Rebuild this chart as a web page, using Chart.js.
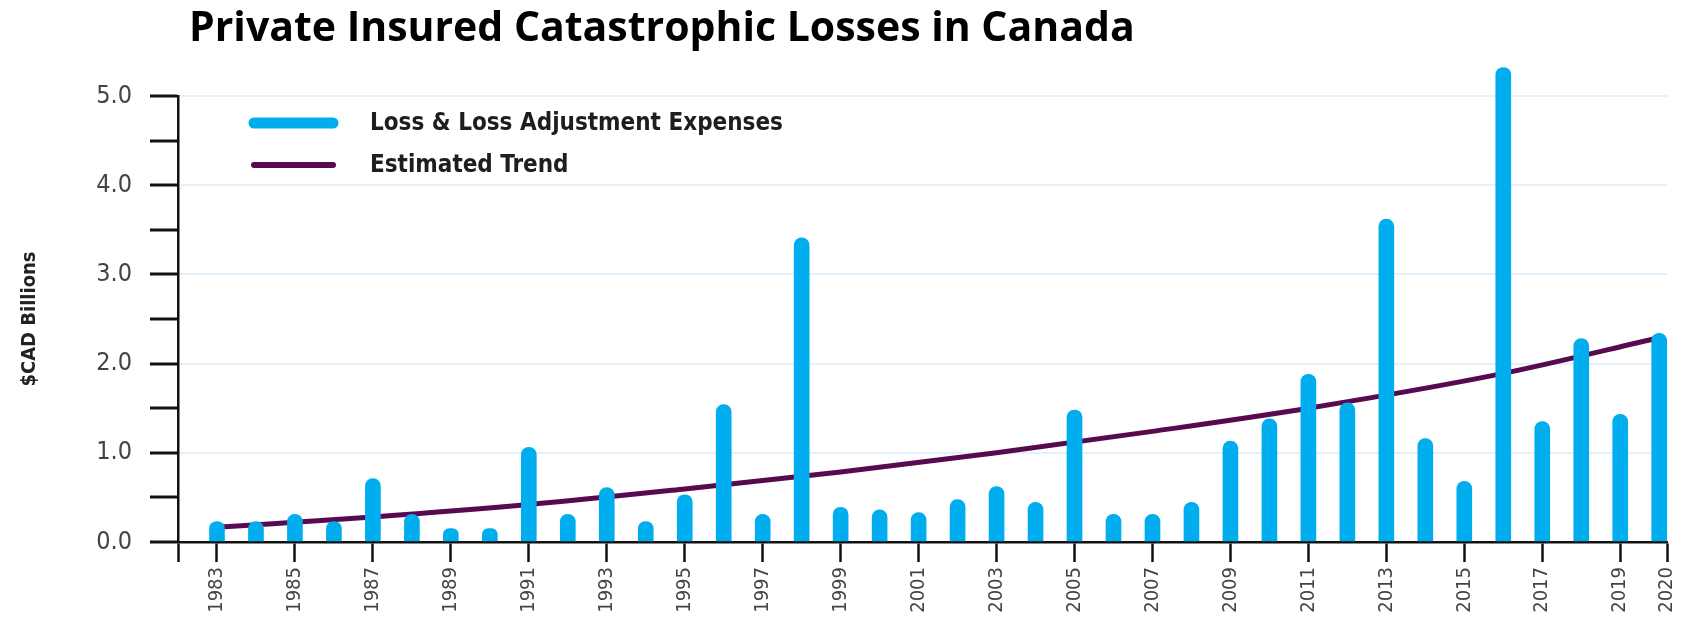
<!DOCTYPE html>
<html>
<head>
<meta charset="utf-8">
<script src="https://cdn.jsdelivr.net/npm/chart.js@4.4.1/dist/chart.umd.min.js"></script>
<style>
  html, body { margin: 0; padding: 0; background: #fff; }
  #wrap { position: relative; width: 1696px; height: 617px; }
  #title {
    position: absolute; left: 189px; top: 5px; margin: 0;
    font: bold 41px "Open Sans", Lato, sans-serif; line-height: 1;
    color: #000; white-space: nowrap;
  }
  canvas { position: absolute; left: 0; top: 0; }
</style>
</head>
<body>
<div id="wrap">
  <canvas id="chart" width="1696" height="617"></canvas>
  <h1 id="title">Private Insured Catastrophic Losses in Canada</h1>
</div>
<script>
// yearly losses, $CAD billions
const years = [1983, 1984, 1985, 1986, 1987, 1988, 1989, 1990, 1991, 1992,
               1993, 1994, 1995, 1996, 1997, 1998, 1999, 2000, 2001, 2002,
               2003, 2004, 2005, 2006, 2007, 2008, 2009, 2010, 2011, 2012,
               2013, 2014, 2015, 2016, 2017, 2018, 2019, 2020];
const losses = [0.23, 0.23, 0.31, 0.23, 0.71, 0.31, 0.15, 0.15, 1.06, 0.31,
                0.61, 0.23, 0.53, 1.54, 0.31, 3.41, 0.39, 0.36, 0.33, 0.475,
                0.62, 0.445, 1.48, 0.31, 0.31, 0.445, 1.13, 1.38, 1.88, 1.56,
                3.62, 1.16, 0.68, 5.32, 1.35, 2.28, 1.43, 2.34];

// estimated trend curve, read at a few years
const trendYears = [1983, 1987, 1991, 1995, 1999, 2003, 2007, 2011, 2016, 2020];
const trendValues = [0.165, 0.28, 0.42, 0.595, 0.785, 1.00, 1.24, 1.50, 1.89, 2.29];

// x axis tick labels
const tickYears = [1983, 1985, 1987, 1989, 1991, 1993, 1995, 1997, 1999, 2001,
                   2003, 2005, 2007, 2009, 2011, 2013, 2015, 2017, 2019];
const endLabel = "2020";
const xMin = 1982, xMax = 2020.2;

const seriesLabels = ["Loss & Loss Adjustment Expenses", "Estimated Trend"];

const BLUE = "#00adee";
const PURPLE = "#570a50";
const GRID = "#e2f1fb";
const AXIS = "#111";
const NARROW = "'Liberation Sans Narrow', 'DejaVu Sans Condensed', sans-serif";

// legend drawn inside the plot area, top-left
const insideLegend = {
  id: "insideLegend",
  afterDraw(chart) {
    const { ctx, chartArea } = chart;
    const rows = [
      { ds: chart.data.datasets[0], lw: 11, lineY: 27, textY: 34 },
      { ds: chart.data.datasets[1], lw: 6, lineY: 69, textY: 76 }
    ];
    ctx.save();
    rows.forEach(r => {
      const color = r.ds.type === "line" ? r.ds.borderColor : r.ds.backgroundColor;
      ctx.strokeStyle = color;
      ctx.lineWidth = r.lw;
      ctx.lineCap = "round";
      ctx.beginPath();
      ctx.moveTo(chartArea.left + 76, chartArea.top + r.lineY);
      ctx.lineTo(chartArea.left + 155, chartArea.top + r.lineY);
      ctx.stroke();
      ctx.fillStyle = "#1e1e1e";
      ctx.font = "bold 24px " + NARROW;
      ctx.textBaseline = "alphabetic";
      ctx.textAlign = "left";
      ctx.fillText(r.ds.label, chartArea.left + 192, chartArea.top + r.textY);
    });
    ctx.restore();
  }
};

new Chart(document.getElementById("chart"), {
  type: "bar",
  data: {
    datasets: [
      {
        type: "bar",
        label: seriesLabels[0],
        data: years.map((y, i) => ({ x: y, y: losses[i] })),
        backgroundColor: BLUE,
        barThickness: 15,
        borderRadius: 8,
        borderSkipped: "start",
        clip: false,
        order: 1
      },
      {
        type: "line",
        label: seriesLabels[1],
        data: trendYears.map((y, i) => ({ x: y, y: trendValues[i] })),
        borderColor: PURPLE,
        borderWidth: 5,
        pointRadius: 0,
        cubicInterpolationMode: "monotone",
        fill: false,
        order: 2
      }
    ]
  },
  options: {
    responsive: false,
    animation: false,
    layout: { padding: { top: 96, right: 16, left: 0, bottom: 0 } },
    plugins: {
      legend: { display: false },
      tooltip: { enabled: false }
    },
    scales: {
      x: {
        type: "linear",
        min: xMin,
        max: xMax,
        offset: false,
        afterBuildTicks: s => {
          s.ticks = [xMin, ...tickYears, xMax].map(v => ({ value: v }));
        },
        afterFit: s => { s.height = 75; },
        grid: {
          offset: false,
          drawOnChartArea: false,
          tickLength: 20,
          tickColor: AXIS,
          tickWidth: 2.5
        },
        border: { color: AXIS, width: 2.5 },
        ticks: {
          autoSkip: false,
          minRotation: 90,
          maxRotation: 90,
          padding: 5,
          color: "#444",
          font: { family: NARROW, size: 20 },
          callback: v => v === xMax ? endLabel : (v === xMin ? "" : String(v))
        }
      },
      y: {
        min: 0,
        max: 5,
        afterFit: s => { s.width = 178; },
        grid: {
          color: c => (c.tick && Number.isInteger(c.tick.value) && c.tick.value > 0) ? GRID : "rgba(0,0,0,0)",
          lineWidth: 2,
          tickLength: 28,
          tickColor: AXIS,
          tickWidth: 3
        },
        border: { color: AXIS, width: 2.5 },
        ticks: {
          stepSize: 0.5,
          padding: 18,
          color: "#444",
          font: { family: NARROW, size: 25 },
          callback: v => Number.isInteger(v) ? v.toFixed(1) : ""
        },
        title: {
          display: true,
          text: "$CAD Billions",
          color: "#222",
          font: { family: NARROW, size: 20, weight: "bold" },
          padding: { top: 18, bottom: 0 }
        }
      }
    }
  },
  plugins: [insideLegend]
});
</script>
</body>
</html>
